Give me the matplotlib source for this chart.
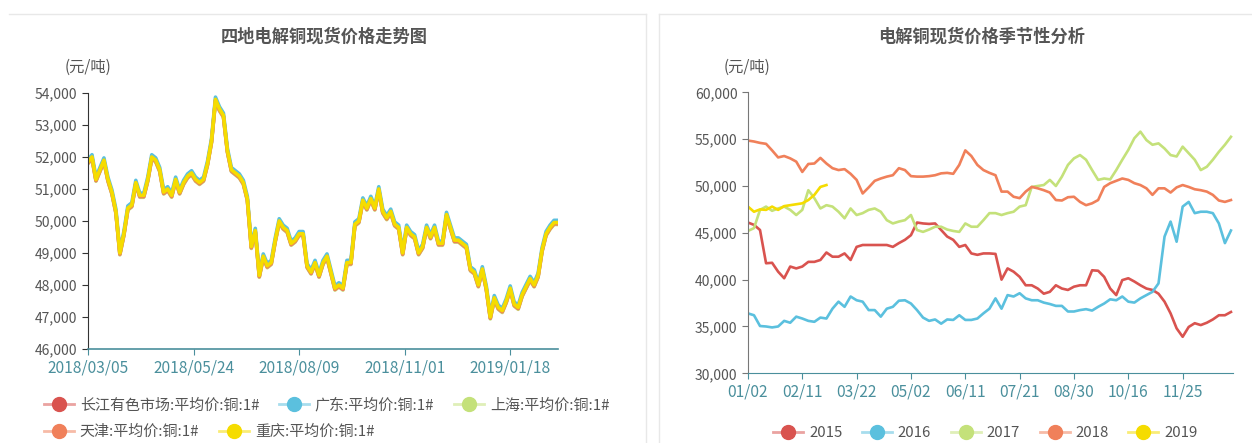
import matplotlib

matplotlib.use("Agg")
import matplotlib.pyplot as plt
import numpy as np
from matplotlib.lines import Line2D

plt.rcParams["font.family"] = ["Noto Sans CJK SC", "DejaVu Sans"]

# ---- left chart: spot price of four regions (every 2nd trading day) ----
left_title = "四地电解铜现货价格走势图"
left_ticks = ["2018/03/05", "2018/05/24", "2018/08/09", "2018/11/01", "2019/01/18"]
left_tick_idx = [0, 53, 106, 159, 212]
base_price = [
    51850, 52000, 51300, 51600, 51900, 51300, 50900, 50300, 49000, 49600,
    50400, 50500, 51200, 50800, 50800, 51300, 52000, 51900, 51600, 50900,
    51000, 50800, 51300, 50900, 51200, 51400, 51500, 51300, 51200, 51300,
    51800, 52500, 53800, 53500, 53300, 52200, 51600, 51500, 51400, 51200,
    50700, 49200, 49700, 48300, 48900, 48600, 48700, 49400, 50000, 49800,
    49700, 49300, 49400, 49600, 49600, 48600, 48400, 48700, 48300, 48700,
    48900, 48400, 47900, 48000, 47900, 48700, 48700, 49900, 50000, 50650,
    50400, 50700, 50400, 51000, 50300, 50100, 50300, 49900, 49800, 49000,
    49800, 49600, 49500, 49000, 49200, 49800, 49500, 49800, 49300, 49300,
    50200, 49800, 49400, 49400, 49300, 49200, 48500, 48400, 48000, 48500,
    47900, 47000, 47600, 47300, 47200, 47500, 47900, 47400, 47300, 47700,
    47950, 48200, 48000, 48300, 49100, 49600, 49800, 49950, 49950,
]
region_names = [
    "长江有色市场:平均价:铜:1#",
    "广东:平均价:铜:1#",
    "上海:平均价:铜:1#",
    "天津:平均价:铜:1#",
    "重庆:平均价:铜:1#",
]
region_premium = [-30, 70, -60, -40, 0]
region_colors = ["#d9534f", "#5bc0de", "#c4e17a", "#f0805a", "#f5dc00"]

# ---- right chart: seasonal (every 3rd category) ----
right_title = "电解铜现货价格季节性分析"
right_ticks = ["01/02", "02/11", "03/22", "05/02", "06/11", "07/21", "08/30", "10/16", "11/25"]
years = ["2015", "2016", "2017", "2018", "2019"]
p2015 = [
    46100, 45850, 45300, 41750, 41800, 40850, 40150, 41400, 41200, 41400,
    41900, 41900, 42100, 42900, 42450, 42450, 42800, 42100, 43500, 43700,
    43700, 43700, 43700, 43700, 43500, 43900, 44250, 44750, 46100, 46000,
    45950, 46000, 45300, 44600, 44250, 43500, 43700, 42800, 42650, 42800,
    42800, 42750, 40000, 41200, 40850, 40300, 39400, 39400, 39050, 38500,
    38700, 39400, 39050, 38900, 39250, 39400, 39400, 41000, 40950, 40300,
    39050, 38350, 39950, 40150, 39800, 39400, 39050, 38900, 38500, 37650,
    36400, 34800, 33900, 34950, 35350, 35150, 35400, 35750, 36200, 36200,
    36550,
]
p2016 = [
    36400, 36200, 35050, 35000, 34900, 35000, 35600, 35400, 36050, 35850,
    35600, 35500, 35950, 35850, 36900, 37650, 37100, 38200, 37800, 37650,
    36750, 36750, 36050, 36900, 37100, 37750, 37800, 37450, 36750, 35950,
    35600, 35750, 35300, 35750, 35700, 36200, 35700, 35700, 35850, 36400,
    36900, 38000, 36900, 38350, 38200, 38550, 38000, 37800, 37800, 37550,
    37400, 37200, 37200, 36600, 36600, 36750, 36850, 36700, 37100, 37450,
    37900, 37800, 38200, 37650, 37550, 38000, 38350, 38700, 39600, 44600,
    46200, 44050, 47800, 48300, 47100, 47250, 47250, 47100, 46000, 43900,
    45250,
]
p2017 = [
    45200, 45500, 47450, 47800, 47350, 47600, 47800, 47450, 46900, 47450,
    49550, 48700, 47600, 47950, 47800, 47250, 46550, 47600, 46900, 47100,
    47450, 47600, 47250, 46350, 46000, 46200, 46350, 46900, 45300, 45100,
    45350, 45650, 45650, 45350, 45200, 45100, 46000, 45650, 45650, 46350,
    47100, 47100, 46900, 47100, 47250, 47800, 47950, 49900, 50000, 50100,
    50650, 50000, 51000, 52250, 52950, 53300, 52800, 51700, 50650, 50800,
    50700, 51700, 52800, 53850, 55100, 55800, 54900, 54400, 54550, 54000,
    53300, 53150, 54200, 53500, 52800, 51700, 52050, 52800, 53650, 54400,
    55250,
]
p2018 = [
    54850, 54750, 54600, 54500, 53800, 53050, 53200, 52950, 52600, 51500,
    52350, 52400, 53000, 52400, 51900, 51700, 51800, 51300, 50650, 49200,
    49850, 50550, 50800, 51000, 51150, 51900, 51700, 51050, 51000, 51000,
    51050, 51150, 51350, 51400, 51300, 52250, 53800, 53200, 52250, 51700,
    51400, 51150, 49400, 49400, 48850, 48700, 49400, 49900, 49750, 49550,
    49300, 48500, 48450, 48800, 48850, 48300, 47950, 48150, 48500, 49900,
    50300, 50550, 50800, 50650, 50300, 50100, 49750, 49050, 49750, 49750,
    49300, 49850, 50100, 49900, 49650, 49550, 49400, 49050, 48450, 48300,
    48500,
]
p2019 = [
    47800, 47250, 47500, 47450, 47800, 47450, 47850, 47950, 48050, 48150,
    48500, 49050, 49900, 50100,
]
year_colors = ["#d9534f", "#5bc0de", "#c4e17a", "#f0805a", "#f5dc00"]

TEXT = "#555555"
TEAL = "#4a8f9c"

fig = plt.figure(figsize=(12.52, 4.43), dpi=100)
fig.patch.set_facecolor("white")

# panel frames
for x0, x1 in [(0.007, 0.516), (0.526, 1.0)]:
    fig.add_artist(Line2D([x0, x1], [0.968, 0.968], color="#e8e8e8", lw=1))
fig.add_artist(Line2D([0.516, 0.516], [0.0, 0.968], color="#e8e8e8", lw=1))
fig.add_artist(Line2D([0.526, 0.526], [0.0, 0.968], color="#e8e8e8", lw=1))


def style_axes(ax, yaxis_color):
    for s in ["top", "right"]:
        ax.spines[s].set_visible(False)
    ax.spines["left"].set_color(yaxis_color)
    ax.spines["bottom"].set_color(TEAL)
    ax.tick_params(axis="y", colors=yaxis_color, labelcolor=TEXT, labelsize=10, length=4)
    ax.tick_params(axis="x", colors=TEAL, labelcolor=TEAL, labelsize=11.2, length=4)
    ax.yaxis.set_major_formatter(matplotlib.ticker.StrMethodFormatter("{x:,.0f}"))


def legend_handle(c):
    return Line2D([0], [0], color=c + "88", lw=2, marker="o", markersize=10,
                  markerfacecolor=c, markeredgecolor=c)


# ---- left ----
ax1 = fig.add_axes([0.0703, 0.2122, 0.3754, 0.578])
x_left = np.arange(len(base_price)) * 2
base = np.array(base_price)
for name, prem, col in zip(region_names, region_premium, region_colors):
    ax1.plot(x_left, base + prem, color=col, lw=2.6, label=name, solid_joinstyle="round")
ax1.set_xlim(0, 236)
ax1.set_ylim(46000, 54000)
ax1.set_yticks(np.arange(46000, 54001, 1000))
ax1.set_xticks(left_tick_idx)
ax1.set_xticklabels(left_ticks)
style_axes(ax1, "#333333")
ax1.spines["bottom"].set_linewidth(1.2)

fig.text(0.259, 0.917, left_title, ha="center", va="center", fontsize=12.4,
         color=TEXT, fontweight="bold")
fig.text(0.0705, 0.848, "(元/吨)", ha="center", va="center", fontsize=11, color=TEXT)

handles = [legend_handle(c) for c in region_colors]
leg_kw = dict(frameon=False, fontsize=10.8, labelcolor=TEXT, handlelength=2.0,
              handletextpad=0.4, columnspacing=1.3, borderaxespad=0, borderpad=0)
fig.legend(handles[:3], region_names[:3], loc="center left",
           bbox_to_anchor=(0.035, 0.085), ncol=3, **leg_kw)
fig.legend(handles[3:], region_names[3:], loc="center left",
           bbox_to_anchor=(0.035, 0.025), ncol=2, **leg_kw)

# ---- right ----
ax2 = fig.add_axes([0.5974, 0.1573, 0.3874, 0.6343])
series = [p2015, p2016, p2017, p2018, p2019]
for yr, vals, col in zip(years, series, year_colors):
    ax2.plot(np.arange(len(vals)) * 3, vals, color=col, lw=1.9, label=yr)
ax2.set_xlim(0, 241)
ax2.set_ylim(30000, 60000)
ax2.set_yticks(np.arange(30000, 60001, 5000))
ax2.set_xticks(np.arange(len(right_ticks)) * 27)
ax2.set_xticklabels(right_ticks)
style_axes(ax2, "#777777")

fig.text(0.784, 0.917, right_title, ha="center", va="center", fontsize=12.4,
         color=TEXT, fontweight="bold")
fig.text(0.597, 0.848, "(元/吨)", ha="center", va="center", fontsize=11, color=TEXT)

yhandles = [legend_handle(c) for c in year_colors]
fig.legend(yhandles, years, loc="center", bbox_to_anchor=(0.787, 0.022), ncol=5, **leg_kw)

fig.savefig("out.png", dpi=100, facecolor="white")
